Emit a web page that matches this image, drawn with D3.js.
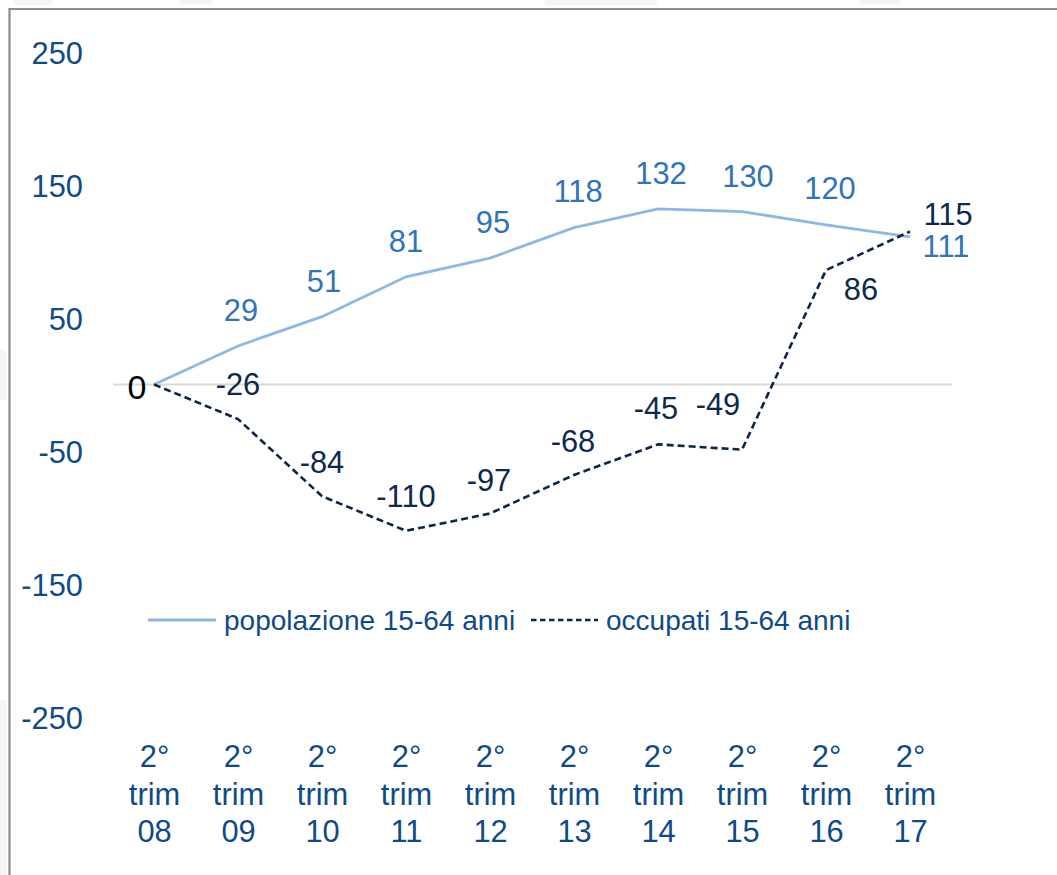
<!DOCTYPE html>
<html><head><meta charset="utf-8">
<script src="https://cdn.jsdelivr.net/npm/d3@7"></script>
<style>
html,body{margin:0;padding:0;background:#fff;}
svg{display:block;font-family:"Liberation Sans",Arial,sans-serif;}
</style></head>
<body>
<svg id="c" width="1057" height="875"></svg>
<script>
const categories = ["08","09","10","11","12","13","14","15","16","17"];
const popolazione = [0,29,51,81,95,118,132,130,120,111];
const occupati = [0,-26,-84,-110,-97,-68,-45,-49,86,115];
const yTicks = [250,150,50,-50,-150,-250];
const seriesNames = ["popolazione 15-64 anni","occupati 15-64 anni"];

// label placement (style, not data)
const popOff = [null,[3,-36],[2,-36],[0,-36],[3,-36],[4,-37],[3,-36],[6,-36],[4,-37],[36,9]];
const occOff = [[-17,2],[0,-35],[0,-34],[0,-35],[-1,-34],[-1,-34],[-2,-36],[-24,-46],[35,19],[38,-18]];

const svg = d3.select("#c");
// faint background artifacts
const bg = [[14,0,38,5],[180,0,32,4],[545,0,112,5],[860,0,40,4],[0,700,7,175],[0,350,6,50]];
svg.selectAll("rect.bg").data(bg).join("rect").attr("class","bg")
  .attr("x",d=>d[0]).attr("y",d=>d[1]).attr("width",d=>d[2]).attr("height",d=>d[3]).attr("fill","#f5f5f5");

// frame
svg.append("path").attr("d","M9.5,875 V9 H1057").attr("fill","none").attr("stroke","#8c8c8c").attr("stroke-width",2.2);

const x = d3.scalePoint().domain(categories).range([154,910]);
const y = d3.scaleLinear().domain([-250,250]).range([717,52]);

const tickCol = "#0E4A8A", popCol = "#8DB8E6", popLab = "#2E73BE", occCol = "#0D2547", occLab = "#0C2A4C";
const FS = 30.8;

// zero line
svg.append("line").attr("x1",113).attr("x2",952).attr("y1",y(0)).attr("y2",y(0))
  .attr("stroke","#d9d9d9").attr("stroke-width",2);

// y axis
const yAxis = d3.axisLeft(y).tickValues(yTicks).tickSize(0).tickPadding(0).tickFormat(d=>String(d));
const ya = svg.append("g").attr("transform","translate(83,0)").call(yAxis);
ya.select(".domain").remove();
ya.selectAll("text").attr("fill",tickCol).attr("font-size",FS).attr("dy","0.36em")
  .attr("font-family","Liberation Sans, Arial, sans-serif");

// x axis labels
const xAxis = d3.axisBottom(x).tickSize(0).tickFormat("");
const xa = svg.append("g").attr("transform","translate(0,767)").call(xAxis);
xa.select(".domain").remove();
xa.selectAll(".tick").each(function(d){
  const g = d3.select(this);
  g.selectAll("text").remove();
  const t = g.append("text").attr("fill",tickCol).attr("font-size",FS).attr("text-anchor","middle")
    .attr("font-family","Liberation Sans, Arial, sans-serif");
  ["2°","trim",d].forEach((s,i)=>t.append("tspan").attr("x",0).attr("y",i*37.5).text(s));
});

// lines
const line = d3.line().x((d,i)=>x(categories[i])).y(d=>y(d));
svg.append("path").datum(popolazione).attr("d",line).attr("fill","none")
  .attr("stroke",popCol).attr("stroke-width",2.8);
svg.append("path").datum(occupati).attr("d",line).attr("fill","none")
  .attr("stroke",occCol).attr("stroke-width",2.6).attr("stroke-dasharray","7,4");

// data labels
const popItems = popolazione.map((v,i)=>({v,i,c:categories[i],o:popOff[i]})).filter(d=>d.o);
svg.append("g").selectAll("text").data(popItems).join("text")
  .attr("x",d=>x(d.c)+d.o[0]).attr("y",d=>y(d.v)+d.o[1])
  .attr("dy","0.36em").attr("text-anchor","middle").attr("font-size",FS).attr("fill",popLab)
  .text(d=>String(d.v));
const occItems = occupati.map((v,i)=>({v,i,c:categories[i],o:occOff[i]}));
svg.append("g").selectAll("text").data(occItems).join("text")
  .attr("x",d=>x(d.c)+d.o[0]).attr("y",d=>y(d.v)+d.o[1])
  .attr("dy","0.36em").attr("text-anchor","middle")
  .attr("font-size",d=>d.i===0?34:FS).attr("fill",d=>d.i===0?"#000":occLab)
  .text(d=>String(d.v));

// legend
const lg = svg.append("g").attr("transform","translate(0,620)");
lg.append("line").attr("x1",148).attr("x2",216).attr("y1",0).attr("y2",0).attr("stroke",popCol).attr("stroke-width",2.8);
lg.append("text").attr("x",224).attr("y",0).attr("dy","0.36em").attr("font-size",28).attr("fill",tickCol).text(seriesNames[0]);
lg.append("line").attr("x1",531).attr("x2",598).attr("y1",0).attr("y2",0).attr("stroke",occCol).attr("stroke-width",2.4).attr("stroke-dasharray","5.5,3.5");
lg.append("text").attr("x",606).attr("y",0).attr("dy","0.36em").attr("font-size",28).attr("fill",tickCol).text(seriesNames[1]);
</script>
</body></html>
